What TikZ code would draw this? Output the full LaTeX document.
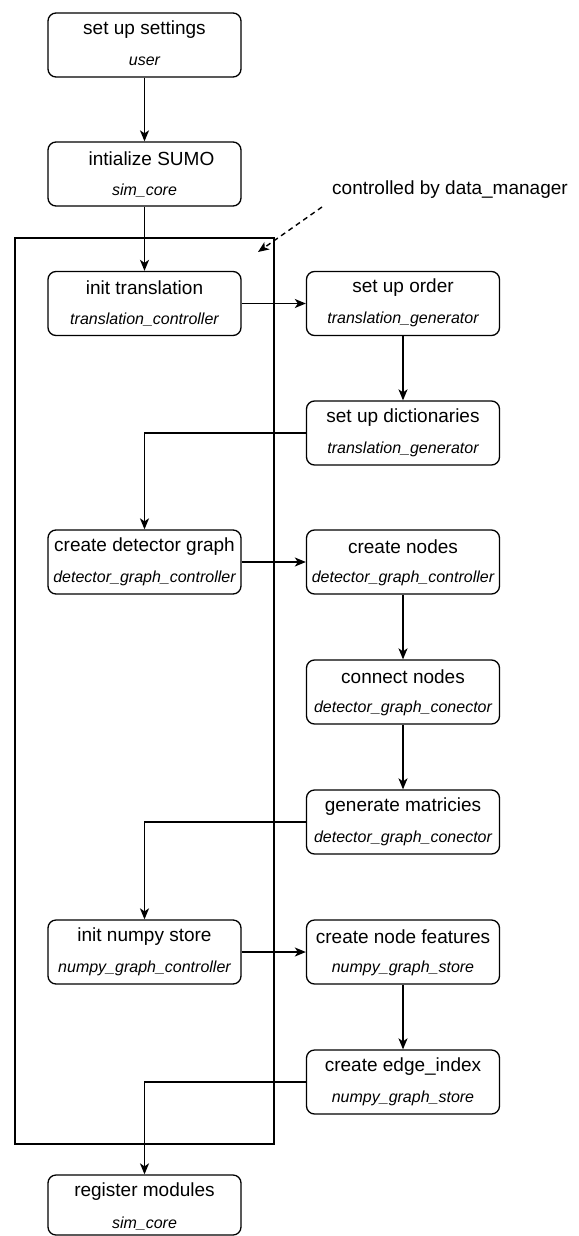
\documentclass[tikz,border=0pt]{standalone}
\usepackage{fontspec}
\setmainfont{Liberation Sans}
\usetikzlibrary{arrows.meta}
\begin{document}
\begin{tikzpicture}[x=1pt,y=-1pt,
 box/.style={draw,line width=1.3pt,rounded corners=8pt,minimum width=193pt,minimum height=64pt,inner sep=0pt},
 ttl/.style={font=\fontsize{19}{22}\selectfont,inner sep=0pt},
 sub/.style={font=\fontsize{16}{19}\selectfont\itshape,inner sep=0pt},
 conn/.style={line width=1.4pt,-{Stealth[length=11pt,width=9pt,inset=3pt]}},
 frame/.style={line width=1.4pt},
]
\useasboundingbox (0,0) rectangle (578,1236);
% frame
\coordinate (fa) at (15,238);
\coordinate (fb) at (274,1144);
\draw[frame] (fa) rectangle (fb);
% left column
\node[box] (set) at (144.5,45) {};
\node[ttl] at ([yshift=-17pt]set.north) {set up settings};
\node[sub] at ([yshift=-49pt]set.north) {user};
\node[box] (sumo) at (144.5,174) {};
\node[ttl] at ([yshift=-17pt,xshift=7pt]sumo.north) {intialize SUMO};
\node[sub] at ([yshift=-49pt]sumo.north) {sim\_core};
\node[box] (init) at (144.5,303.5) {};
\node[ttl] at ([yshift=-17pt]init.north) {init translation};
\node[sub] at ([yshift=-49pt]init.north) {translation\_controller};
\node[box] (det) at (144.5,562) {};
\node[ttl] at ([yshift=-17pt]det.north) {create detector graph};
\node[sub] at ([yshift=-49pt]det.north) {detector\_graph\_controller};
\node[box] (np) at (144.5,952) {};
\node[ttl] at ([yshift=-17pt]np.north) {init numpy store};
\node[sub] at ([yshift=-49pt]np.north) {numpy\_graph\_controller};
\node[box,minimum height=60pt] (reg) at (144.5,1205) {};
\node[ttl] at ([yshift=-17pt]reg.north) {register modules};
\node[sub] at ([yshift=-49pt]reg.north) {sim\_core};
% right column
\node[box] (order) at (403,303.5) {};
\node[ttl] at ([yshift=-17pt]order.north) {set up order};
\node[sub] at ([yshift=-49pt]order.north) {translation\_generator};
\node[box] (dict) at (403,433) {};
\node[ttl] at ([yshift=-17pt]dict.north) {set up dictionaries};
\node[sub] at ([yshift=-49pt]dict.north) {translation\_generator};
\node[box] (cn) at (403,562) {};
\node[ttl] at ([yshift=-17pt]cn.north) {create nodes};
\node[sub] at ([yshift=-49pt]cn.north) {detector\_graph\_controller};
\node[box] (con) at (403,692) {};
\node[ttl] at ([yshift=-17pt]con.north) {connect nodes};
\node[sub] at ([yshift=-49pt]con.north) {detector\_graph\_conector};
\node[box] (gen) at (403,822) {};
\node[ttl] at ([yshift=-17pt]gen.north) {generate matricies};
\node[sub] at ([yshift=-49pt]gen.north) {detector\_graph\_conector};
\node[box] (feat) at (403,952) {};
\node[ttl] at ([yshift=-17pt]feat.north) {create node features};
\node[sub] at ([yshift=-49pt]feat.north) {numpy\_graph\_store};
\node[box] (edge) at (403,1082) {};
\node[ttl] at ([yshift=-17pt]edge.north) {create edge\_index};
\node[sub] at ([yshift=-49pt]edge.north) {numpy\_graph\_store};
% label
\node[ttl] (lbl) at (450,190) {controlled by data\_manager};
% connectors
\draw[conn] (set.south) -- (sumo.north);
\draw[conn] (sumo.south) -- (init.north);
\draw[conn] (init.east) -- (order.west);
\draw[conn] (order.south) -- (dict.north);
\draw[conn] (dict.west) -| (det.north);
\draw[conn] (det.east) -- (cn.west);
\draw[conn] (cn.south) -- (con.north);
\draw[conn] (con.south) -- (gen.north);
\draw[conn] (gen.west) -| (np.north);
\draw[conn] (np.east) -- (feat.west);
\draw[conn] (feat.south) -- (edge.north);
\draw[conn] (edge.west) -| (reg.north);
\coordinate (dtail) at (322,207);
\coordinate (dtip) at (258,252);
\draw[conn,dash pattern=on 5pt off 4pt] (dtail) -- (dtip);
\end{tikzpicture}
\end{document}
